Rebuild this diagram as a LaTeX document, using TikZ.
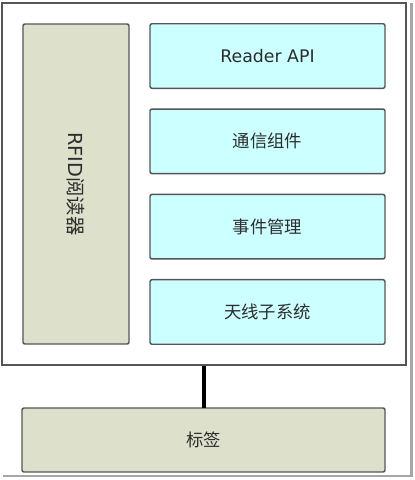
\documentclass[tikz,border=0pt]{standalone}
\usepackage{fontspec}
\setmainfont{DejaVu Sans}
\newfontfamily\cjk{Noto Sans CJK SC}
\definecolor{boxcyan}{RGB}{204, 255, 255}
\definecolor{boxolive}{RGB}{221, 224, 203}
\definecolor{boxedge}{RGB}{85, 85, 85}
\definecolor{textgray}{RGB}{45, 45, 45}
\usetikzlibrary{positioning, calc}

\begin{document}
\begin{tikzpicture}[x=0.75pt, y=-0.75pt,
    block/.style={draw=boxedge, line width=1.1pt, rounded corners=1.5pt,
      inner sep=0pt, outer sep=0pt, text=textgray,
      font=\fontsize{13}{15}\selectfont},
    layer/.style={block, fill=boxcyan, minimum width=176.25pt,
      minimum height=48.4pt}]
        \useasboundingbox (0,0) rectangle (415,480);

        % screenshot frame shadow
        \draw[gray!70, line width=1.6pt] (411.5,3) -- (411.5,476) -- (3,476);

        \node[draw=boxedge, line width=1pt, fill=white, inner sep=0pt,
              minimum width=303pt, minimum height=271.5pt] (reader) at (204,184) {};

        \node[block, fill=boxolive, minimum width=79.5pt, minimum height=240pt,
              font=\fontsize{14.5}{16}\selectfont] (rfid) at (76,184)
          {\rotatebox{-90}{RFID{\cjk 阅读器}}};

        \foreach \name/\txt [count=\i from 0] in
            {api/Reader API, comm/{\cjk 通信组件}, event/{\cjk 事件管理},
             antenna/{\cjk 天线子系统}}{
          \node[layer] (\name) at (267.5, 56+85.33*\i) {\txt};
        }

        \node[block, fill=boxolive, minimum width=272.25pt,
              minimum height=48pt] (tag) at (203.5,440) {\cjk 标签};

        \draw[black, line width=2.3pt] (reader.south) -- (reader.south |- tag.north);
      \end{tikzpicture}
\end{document}
